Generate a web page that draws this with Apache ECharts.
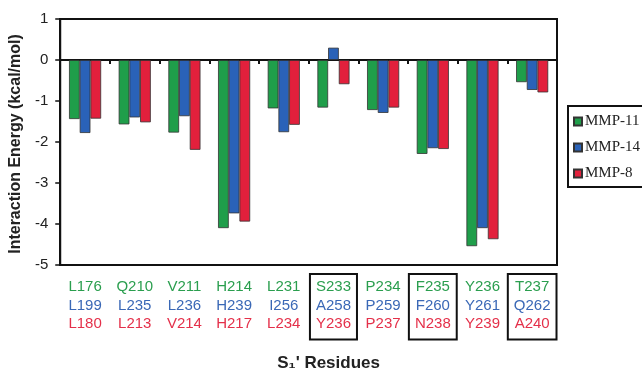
<!DOCTYPE html>
<html><head><meta charset="utf-8">
<script src="https://cdn.jsdelivr.net/npm/echarts@6/dist/echarts.min.js"></script>
<style>html,body{margin:0;padding:0;background:#fff}#c{width:642px;height:377px}</style>
</head><body><div id="c"></div>
<script>
const resMMP11 = ['L176','Q210','V211','H214','L231','S233','P234','F235','Y236','T237'];
const resMMP14 = ['L199','L235','L236','H239','I256','A258','P259','F260','Y261','Q262'];
const resMMP8  = ['L180','L213','V214','H217','L234','Y236','P237','N238','Y239','A240'];
const boxedIdx = [5,7,9];
const valMMP11 = [-1.44,-1.57,-1.77,-4.10,-1.18,-1.16,-1.22,-2.29,-4.54,-0.54];
const valMMP14 = [-1.78,-1.40,-1.37,-3.74,-1.76,0.30,-1.29,-2.15,-4.10,-0.73];
const valMMP8  = [-1.43,-1.52,-2.19,-3.94,-1.58,-0.59,-1.16,-2.17,-4.37,-0.79];
const seriesNames = ['MMP-11','MMP-14','MMP-8'];
const yTicks = {min:-5, max:1, interval:1};

const colors = ['#1f9e4a','#2a62b8','#e2203c'];
const sans = 'Liberation Sans, Arial, sans-serif';
const chart = echarts.init(document.getElementById('c'), null, {renderer:'canvas'});
const catData = resMMP11.map((c,i)=> boxedIdx.includes(i)
  ? {value:c, textStyle:{borderColor:'#111', borderWidth:2}} : c);
const vals = [valMMP11, valMMP14, valMMP8];
chart.setOption({
  animation:false,
  grid:{left:60, top:19, width:497, height:250, show:true, borderColor:'#111', borderWidth:2, backgroundColor:'transparent'},
  legend:{
    data:seriesNames, orient:'vertical', left:568, top:106,
    itemWidth:8, itemHeight:8, itemGap:11,
    padding:[8,30,6,5],
    borderColor:'#111', borderWidth:2,
    icon:'rect',
    textStyle:{fontFamily:'Liberation Serif, Times New Roman, serif', fontSize:15, color:'#222', lineHeight:14, padding:[0,0,0,-2]}
  },
  xAxis:[
    {type:'category', data:resMMP11, gridIndex:0, position:'bottom',
     axisLine:{onZero:true, lineStyle:{color:'#111', width:2}},
     axisTick:{show:true, length:4, lineStyle:{color:'#111', width:2}},
     axisLabel:{show:false}, splitLine:{show:false}},
    {type:'category', data:catData, gridIndex:0, position:'bottom',
     axisLine:{show:false, onZero:false}, axisTick:{show:false}, splitLine:{show:false},
     name:"S\u2081' Residues", nameLocation:'middle', nameGap:90,
     nameTextStyle:{fontFamily:sans, fontSize:17, fontWeight:'bold', color:'#222', padding:[0,0,0,40]},
     axisLabel:{interval:0, margin:9, padding:[4,6,6,6], lineHeight:18.5,
       formatter:(v,i)=>`{g|${resMMP11[i]}}\n{b|${resMMP14[i]}}\n{r|${resMMP8[i]}}`,
       rich:{
         g:{color:'#2a9e4e', fontFamily:sans, fontSize:15, lineHeight:18.5},
         b:{color:'#3a68b6', fontFamily:sans, fontSize:15, lineHeight:18.5},
         r:{color:'#e4304a', fontFamily:sans, fontSize:15, lineHeight:18.5}
       }}}
  ],
  yAxis:{type:'value', min:yTicks.min, max:yTicks.max, interval:yTicks.interval,
    axisLine:{show:true, lineStyle:{color:'#111', width:2}},
    axisTick:{show:true, length:5, lineStyle:{color:'#111', width:1.5}}, splitLine:{show:false},
    axisLabel:{fontFamily:sans, fontSize:15, color:'#222', margin:12},
    name:'Interaction Energy (kcal/mol)', nameLocation:'middle', nameGap:36, nameRotate:90,
    nameTextStyle:{fontFamily:sans, fontSize:16, fontWeight:'bold', color:'#222', padding:[0,0,0,-4]}},
  series: seriesNames.map((n,k)=>({
    name:n, type:'bar', xAxisIndex:0, data:vals[k], barWidth:10.7, barGap:'0%',
    itemStyle:{color:colors[k], borderColor:'#333', borderWidth:0.8}
  }))
});
</script></body></html>
